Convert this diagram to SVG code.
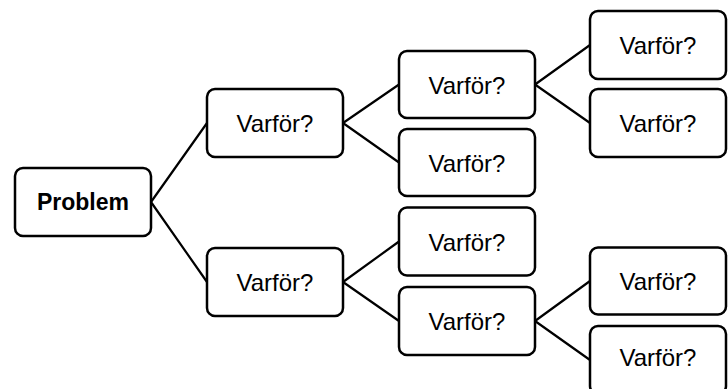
<svg xmlns="http://www.w3.org/2000/svg" width="728" height="389" viewBox="0 0 728 389">
<style>
.box{fill:#fff;stroke:#000;stroke-width:2.5}
.lbl{font-family:"Liberation Sans",Arial,sans-serif;font-size:24px;fill:#000;text-anchor:middle}
.bold{font-weight:bold;font-size:23px}
.con{stroke:#000;stroke-width:2.2;fill:none}
</style>
<rect width="728" height="389" fill="#fff"/>
<g id="connectors">
<path class="con" d="M151,202 L207,123 M151,202 L207,282"/>
<path class="con" d="M343,123 L399,84.5 M343,123 L399,162.5"/>
<path class="con" d="M343,282 L399,241.5 M343,282 L399,321"/>
<path class="con" d="M535,84.5 L590,45 M535,84.5 L590,123"/>
<path class="con" d="M535,321 L590,281 M535,321 L590,360"/>
</g>
<g id="problem"><rect class="box" x="15" y="168" width="136" height="68" rx="8"/><text class="lbl bold" x="83" y="210">Problem</text></g>
<g id="l1a"><rect class="box" x="207" y="89" width="136" height="68" rx="8"/><text class="lbl" x="275" y="132">Varför?</text></g>
<g id="l1b"><rect class="box" x="207" y="248" width="136" height="68" rx="8"/><text class="lbl" x="275" y="291">Varför?</text></g>
<g id="l2a"><rect class="box" x="399" y="51" width="136" height="67" rx="8"/><text class="lbl" x="467" y="93.5">Varför?</text></g>
<g id="l2b"><rect class="box" x="399" y="129" width="136" height="67" rx="8"/><text class="lbl" x="467" y="171.5">Varför?</text></g>
<g id="l2c"><rect class="box" x="399" y="207.5" width="136" height="68" rx="8"/><text class="lbl" x="467" y="250.5">Varför?</text></g>
<g id="l2d"><rect class="box" x="399" y="287" width="136" height="68" rx="8"/><text class="lbl" x="467" y="330">Varför?</text></g>
<g id="l3a"><rect class="box" x="590" y="11" width="136" height="68" rx="8"/><text class="lbl" x="658" y="54">Varför?</text></g>
<g id="l3b"><rect class="box" x="590" y="89" width="136" height="68" rx="8"/><text class="lbl" x="658" y="132">Varför?</text></g>
<g id="l3c"><rect class="box" x="590" y="247.5" width="136" height="67" rx="8"/><text class="lbl" x="658" y="290">Varför?</text></g>
<g id="l3d"><rect class="box" x="590" y="326" width="136" height="68" rx="8"/><text class="lbl" x="658" y="366">Varför?</text></g>
</svg>
